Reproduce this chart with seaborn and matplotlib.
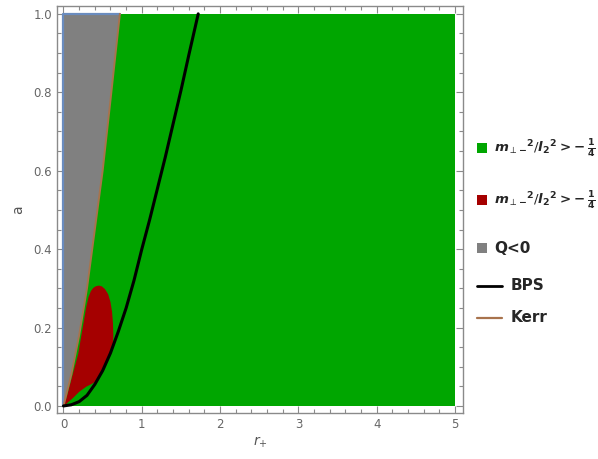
import numpy as np
import pandas as pd
import matplotlib.pyplot as plt
import seaborn as sns
from matplotlib.patches import Rectangle
from matplotlib.lines import Line2D
from matplotlib.ticker import MultipleLocator

sns.set_style("ticks")
plt.rcParams['font.family'] = ['DejaVu Sans']
plt.rcParams['mathtext.fontset'] = 'dejavusans'

################################################
# Data (r_+, a)
################################################
bps_r = [0.0, 0.1, 0.2, 0.3, 0.4, 0.5, 0.6, 0.7, 0.8, 0.9, 1.0, 1.1, 1.2, 1.3, 1.4, 1.5, 1.6, 1.72]
bps_a = [0.0, 0.003, 0.011, 0.027, 0.055, 0.09, 0.135, 0.19, 0.25, 0.32, 0.40, 0.475, 0.555,
         0.635, 0.72, 0.805, 0.895, 1.0]

kerr_r = [0.0, 0.1, 0.2, 0.3, 0.4, 0.5, 0.6, 0.72]
kerr_a = [0.0, 0.08, 0.18, 0.3, 0.45, 0.6, 0.78, 1.0]

red_r = [0.0, 0.04, 0.124, 0.187, 0.25, 0.29, 0.32, 0.35, 0.38, 0.41, 0.45, 0.49, 0.53,
         0.57, 0.60, 0.62, 0.632, 0.636, 0.63, 0.6, 0.5, 0.42, 0.35, 0.29, 0.2, 0.12, 0.04, 0.0]
red_a = [0.0, 0.022, 0.085, 0.132, 0.205, 0.252, 0.278, 0.293, 0.301, 0.305, 0.307, 0.305, 0.298,
         0.285, 0.265, 0.24, 0.21, 0.18, 0.152, 0.135, 0.09, 0.063, 0.055, 0.049, 0.036, 0.02, 0.006, 0.0]

r_max = 5.0
a_max = 1.0

GREEN = '#00A600'
RED = '#A50000'
GRAY = '#808080'
KERR = '#A8734C'
BLUE = '#6A8CBF'
AXIS = '#8a8a8a'
TEXT = '#555555'

legend_label = (r"$\mathbfit{m}_{\perp\mathbf{-}}{}^{\mathbf{2}}/"
                r"\mathbfit{l}_{\mathbf{2}}{}^{\mathbf{2}}\mathbf{>\!-}\frac{\mathbf{1}}{\mathbf{4}}$")

################################################
# Plot
################################################
fig = plt.figure(figsize=(5.98, 4.59), dpi=100)
ax = fig.add_axes([0.0953, 0.1002, 0.6789, 0.8867])

# green region is the whole domain, the rest is drawn on top
ax.add_patch(Rectangle((0, 0), r_max, a_max, color=GREEN, lw=0, zorder=1))

gray_r = kerr_r + [0.0]
gray_a = kerr_a + [a_max]
ax.fill(gray_r, gray_a, color=GRAY, lw=0, zorder=2)
ax.plot([0, 0, kerr_r[-1]], [0, a_max, a_max], color=BLUE, lw=1.6, zorder=3)

ax.fill(red_r, red_a, color=RED, lw=0, zorder=2)

kerr_df = pd.DataFrame({'r': kerr_r, 'a': kerr_a})
bps_df = pd.DataFrame({'r': bps_r, 'a': bps_a})
sns.lineplot(data=kerr_df, x='r', y='a', color=KERR, lw=1.4, sort=False,
             estimator=None, ax=ax, zorder=4)
sns.lineplot(data=bps_df, x='r', y='a', color='black', lw=2.2, sort=False,
             estimator=None, ax=ax, zorder=5)

ax.set_xlim(-0.083, 5.10)
ax.set_ylim(-0.018, 1.02)

ax.xaxis.set_major_locator(MultipleLocator(1))
ax.xaxis.set_minor_locator(MultipleLocator(0.2))
ax.yaxis.set_major_locator(MultipleLocator(0.2))
ax.yaxis.set_minor_locator(MultipleLocator(0.05))
ax.yaxis.set_major_formatter(plt.FuncFormatter(lambda v, p: f"{v:.1f}"))

ax.tick_params(which='both', direction='in', top=True, right=True,
               color=AXIS, labelcolor='#666666', labelsize=8.5, width=0.8)
ax.tick_params(which='major', length=5)
ax.tick_params(which='minor', length=3)
for s in ax.spines.values():
    s.set_color(AXIS)
    s.set_linewidth(1.0)

ax.set_xlabel(r"$r_{+}$", color=TEXT, fontsize=10, labelpad=3)
ax.set_ylabel("a", color=TEXT, fontsize=10, labelpad=6)

################################################
# Legend (drawn by hand, outside the frame)
################################################
W, H = 598.0, 459.0

def fx(px):
    return px / W

def fy(py):
    return 1 - py / H

sq = 10
for py, col in [(148, GREEN), (200, RED), (248, GRAY)]:
    fig.add_artist(Rectangle((fx(477), fy(py + sq / 2)), sq / W, sq / H,
                             transform=fig.transFigure, color=col, lw=0))
fig.text(fx(494), fy(149), legend_label, fontsize=9.6, va='center', ha='left')
fig.text(fx(494), fy(201), legend_label, fontsize=9.6, va='center', ha='left')
fig.text(fx(494), fy(248), "Q<0", fontsize=11, fontweight='bold', va='center', ha='left')

for py, col, lab in [(286, 'black', "BPS"), (318, KERR, "Kerr")]:
    fig.add_artist(Line2D([fx(477), fx(502)], [fy(py), fy(py)],
                          transform=fig.transFigure, color=col, lw=2.0 if col == 'black' else 1.6))
    fig.text(fx(511), fy(py), lab, fontsize=11, fontweight='bold', va='center', ha='left')

fig.savefig("out.png", dpi=100)
